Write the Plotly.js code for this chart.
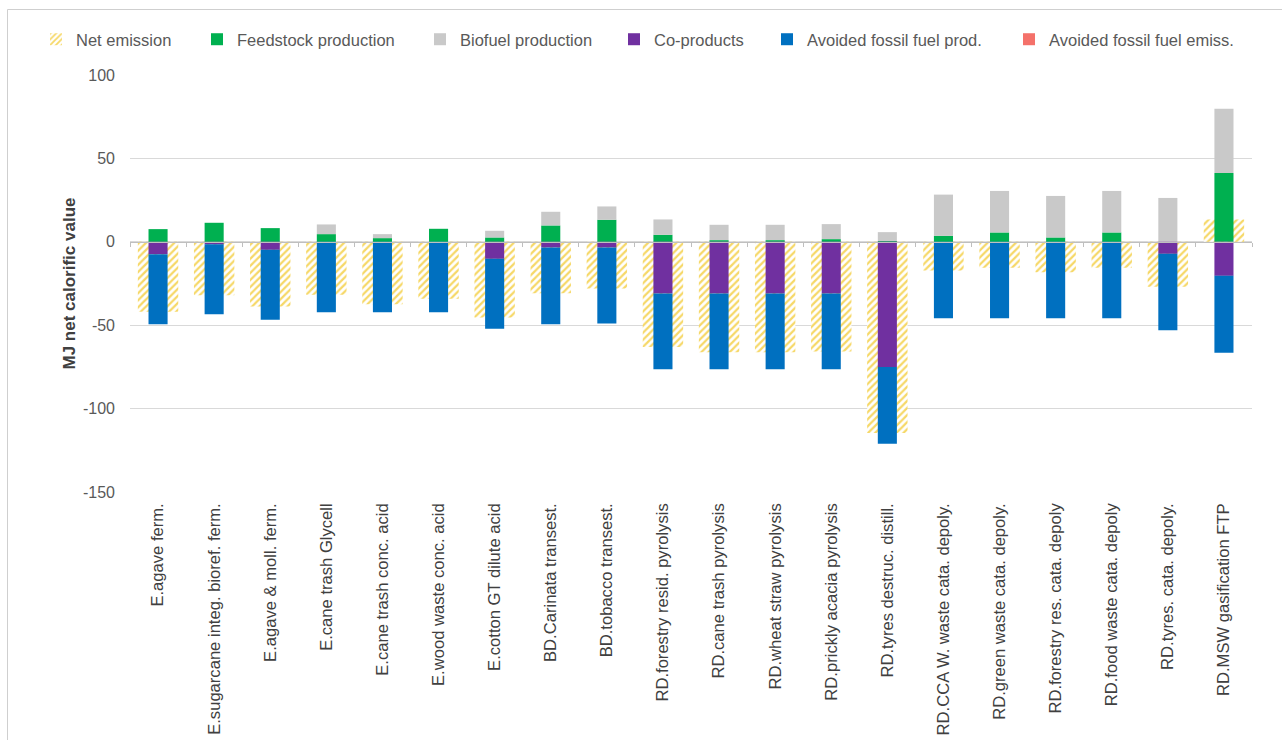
<!DOCTYPE html>
<html>
<head>
<meta charset="utf-8">
<script src="https://cdn.plot.ly/plotly-3.0.1.min.js"></script>
<style>
  html, body { margin: 0; padding: 0; background: #ffffff; }
  #chart { width: 1282px; height: 740px; }
</style>
</head>
<body>
<div id="chart"></div>
<script>
// Pathways (category axis)
const pathways = [
  'E.agave ferm.',
  'E.sugarcane integ. bioref. ferm.',
  'E.agave & moll. ferm.',
  'E.cane trash Glycell',
  'E.cane trash conc. acid',
  'E.wood waste conc. acid',
  'E.cotton GT dilute acid',
  'BD.Carinata transest.',
  'BD.tobacco transest.',
  'RD.forestry resid. pyrolysis',
  'RD.cane trash pyrolysis',
  'RD.wheat straw pyrolysis',
  'RD.prickly acacia pyrolysis',
  'RD.tyres destruc. distill.',
  'RD.CCA W. waste cata. depoly.',
  'RD.green waste cata. depoly.',
  'RD.forestry res. cata. depoly',
  'RD.food waste cata. depoly',
  'RD.tyres. cata. depoly.',
  'RD.MSW gasification FTP'
];

// Contributions, MJ net calorific value
const netEmission = [-42, -32, -38.8, -31.8, -37.4, -34.2, -45.4, -30.8, -28, -63,
                     -66.2, -66.2, -65.8, -114.6, -17.2, -15.6, -18.2, -15.6, -27, 13.4];
const feedstockProduction = [7.6, 11.4, 8.2, 4.6, 2.2, 7.8, 2.6, 9.8, 13.2, 4.2,
                             1.0, 1.0, 1.6, 0.5, 3.6, 5.6, 2.6, 5.6, 0, 41.3];
const biofuelProduction = [0, 0, 0, 5.8, 2.4, 0, 4.0, 8.2, 8.0, 9.2,
                           9.2, 9.2, 9.0, 5.3, 24.7, 24.9, 24.9, 24.9, 26.3, 38.5];
const coProducts = [-7.4, -1.5, -4.8, 0, 0, 0, -10.2, -3.4, -3.4, -31,
                    -31, -31, -31, -75, 0, 0, 0, 0, -7.2, -20.4];
const avoidedFossilProd = [-42, -42, -42, -42.2, -42.2, -42.2, -42, -46, -45.6, -45.4,
                           -45.4, -45.4, -45.4, -46, -45.9, -45.9, -45.9, -45.9, -45.9, -46.1];
const avoidedFossilEmiss = [0, 0, 0, 0, 0, 0, 0, 0, 0, 0,
                            0, 0, 0, 0, 0, 0, 0, 0, 0, 0];

const yTicks = [100, 50, 0, -50, -100, -150];

const FONT = 'Liberation Sans, Arial, sans-serif';
const STACK_W = 0.34;

const W = 1282, H = 740;
const M = { l: 130, r: 30, t: 75, b: 248 };
const plotW = W - M.l - M.r, plotH = H - M.t - M.b;
const px = v => (v - M.l) / plotW;        // pixel x -> paper x
const py = v => 1 - (v - M.t) / plotH;    // pixel y -> paper y

const traces = [
  {
    type: 'bar', name: 'Net emission', x: pathways, y: netEmission,
    xaxis: 'x', yaxis: 'y', width: 0.72, legend: 'legend',
    marker: {
      color: '#FFF3C4',
      line: { width: 0 },
      pattern: { shape: '/', fgcolor: '#F6D867', bgcolor: '#FFFFFF', size: 5, solidity: 0.45 }
    }
  },
  {
    type: 'bar', name: 'Feedstock production', x: pathways, y: feedstockProduction,
    xaxis: 'x2', yaxis: 'y', width: STACK_W, legend: 'legend2',
    marker: { color: '#00B050', line: { width: 0 } }
  },
  {
    type: 'bar', name: 'Biofuel production', x: pathways, y: biofuelProduction,
    xaxis: 'x2', yaxis: 'y', width: STACK_W, legend: 'legend3',
    marker: { color: '#C9C9C9', line: { width: 0 } }
  },
  {
    type: 'bar', name: 'Co-products', x: pathways, y: coProducts,
    xaxis: 'x2', yaxis: 'y', width: STACK_W, legend: 'legend4',
    marker: { color: '#7030A0', line: { width: 0 } }
  },
  {
    type: 'bar', name: 'Avoided fossil fuel prod.', x: pathways, y: avoidedFossilProd,
    xaxis: 'x2', yaxis: 'y', width: STACK_W, legend: 'legend5',
    marker: { color: '#0070C0', line: { width: 0 } }
  },
  {
    type: 'bar', name: 'Avoided fossil fuel emiss.', x: pathways, y: avoidedFossilEmiss,
    xaxis: 'x2', yaxis: 'y', width: STACK_W, legend: 'legend6',
    marker: { color: '#F4716A', line: { width: 0 } }
  }
];

// one legend box per series, laid out in a single row above the plot
const legendLeft = [36, 197, 420, 614, 767, 1009];
const legendBox = left => ({
  orientation: 'h',
  x: px(left), xanchor: 'left',
  y: py(22), yanchor: 'top',
  font: { family: FONT, size: 16.5, color: '#595959' },
  itemwidth: 30,
  bgcolor: 'rgba(0,0,0,0)'
});

const layout = {
  width: W, height: H,
  margin: M,
  paper_bgcolor: '#ffffff',
  plot_bgcolor: '#ffffff',
  barmode: 'relative',
  font: { family: FONT, color: '#595959' },
  showlegend: true,
  legend: legendBox(legendLeft[0]),
  legend2: legendBox(legendLeft[1]),
  legend3: legendBox(legendLeft[2]),
  legend4: legendBox(legendLeft[3]),
  legend5: legendBox(legendLeft[4]),
  legend6: legendBox(legendLeft[5]),
  xaxis: {
    type: 'category',
    range: [-0.5, pathways.length - 0.5],
    showgrid: false, zeroline: false, showline: false,
    ticks: '', tickangle: -90,
    ticklabelstandoff: 7,
    tickfont: { family: FONT, size: 16.6, color: '#404040' },
    automargin: false, fixedrange: true
  },
  xaxis2: {
    type: 'category',
    overlaying: 'x',
    anchor: 'free',
    position: 0.6,
    range: [-0.5, pathways.length - 0.5],
    showgrid: false, zeroline: false,
    showline: true, linecolor: '#BFBFBF', linewidth: 1.2,
    ticks: 'outside', tickson: 'boundaries', ticklen: 4, tickcolor: '#BFBFBF', tickwidth: 1,
    showticklabels: false,
    automargin: false, fixedrange: true
  },
  yaxis: {
    range: [-150, 100],
    tickvals: yTicks,
    ticktext: yTicks.map(String),
    showgrid: true, gridcolor: '#D9D9D9', gridwidth: 1,
    zeroline: false, showline: false,
    ticks: '', ticklabelstandoff: 14,
    tickfont: { family: FONT, size: 16, color: '#595959' },
    title: {
      text: '<b>MJ net calorific value</b>',
      font: { family: FONT, size: 17, color: '#404040' },
      standoff: 3
    },
    automargin: false, fixedrange: true
  },
  shapes: [
    // outer frame: top and left edges
    { type: 'line', xref: 'paper', yref: 'paper', x0: px(7.5), x1: px(1290), y0: py(9.5), y1: py(9.5),
      line: { color: '#CFCFCF', width: 1 } },
    { type: 'line', xref: 'paper', yref: 'paper', x0: px(7.5), x1: px(7.5), y0: py(9.5), y1: py(760),
      line: { color: '#CFCFCF', width: 1 } }
  ]
};

Plotly.newPlot('chart', traces, layout, { displayModeBar: false, staticPlot: true });
</script>
</body>
</html>
